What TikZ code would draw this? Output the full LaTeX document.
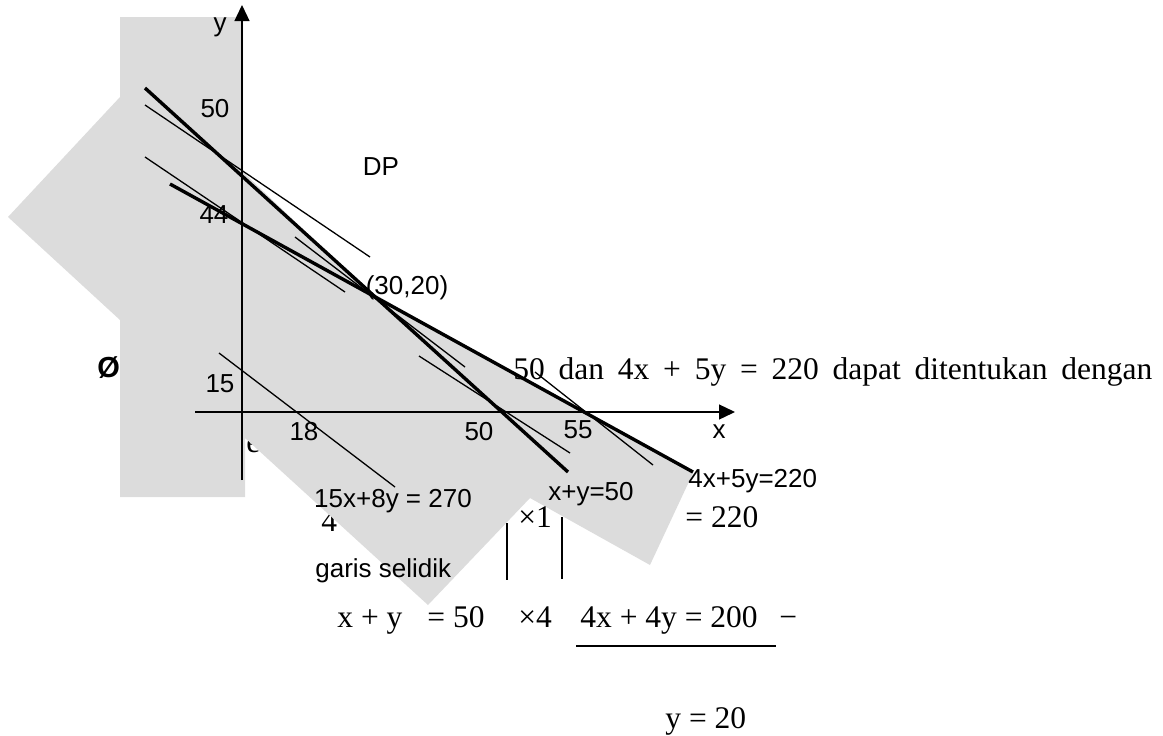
\documentclass[tikz,border=0pt]{standalone}
\usepackage{fontspec}
\setmainfont{Liberation Serif}
\setsansfont{Liberation Sans}
\usetikzlibrary{arrows.meta}

\definecolor{greyfill}{RGB}{220,220,220}

\begin{document}
\begin{tikzpicture}[x=0.5pt, y=-0.5pt,
    lbl/.style={font=\sffamily\fontsize{13}{15}\selectfont, inner sep=0pt, anchor=base},
    body/.style={font=\fontsize{15.75}{19}\selectfont, inner sep=0pt, anchor=base west},
    axis/.style={line width=0.65pt, -{Triangle[length=8pt,width=7.5pt]}},
    constraint/.style={line width=1.7pt},
    probe/.style={line width=0.65pt},
    bar/.style={line width=0.8pt}
  ]
  \useasboundingbox (0,0) rectangle (1163,735);

  % text partly hidden under the shading
  \node[body] (rowa) at (321,531) {4};
  \node[body] (frag) at (246,452) {e};

  % shaded region
  \fill[greyfill] (120,17) -- (243,17) -- (243,172) -- (367,290) -- (693,473)
    -- (650,565) -- (530,498) -- (428,605) -- (245,438) -- (245,497)
    -- (120,497) -- (120,320) -- (8,217) -- (120,97) -- cycle;

  % running text
  \node[body, font=\sffamily\bfseries\fontsize{14.5}{17}\selectfont] (bullet) at (97,377) {Ø};
  \node[body] (sentence) at (513,379) {\makebox[319.5pt][s]{50 dan 4x + 5y = 220 dapat ditentukan dengan}};

  % axes
  \draw[axis] (242,480) -- (242,5);
  \draw[axis] (195,412) -- (735,412);
  \node[lbl] (ylab) at (220,31) {y};
  \node[lbl] (xlab) at (719,438) {x};

  % constraint lines
  \draw[constraint] (145,88) -- (568,472);
  \draw[constraint] (170,184) -- (693,472);

  % probe lines
  \draw[probe] (145,105) -- (370,257);
  \draw[probe] (145,157) -- (345,292);
  \draw[probe] (295,237) -- (465,367);
  \draw[probe] (419,356) -- (570,453);
  \draw[probe] (535,372) -- (653,465);
  \draw[probe] (219,353) -- (395,487);

  % tick labels
  \node[lbl] (y50) at (215,117) {50};
  \node[lbl] (y44) at (214,223) {44};
  \node[lbl] (y15) at (220,392) {15};
  \node[lbl] (x18) at (304,440) {18};
  \node[lbl] (x50) at (479,440) {50};
  \node[lbl] (x55) at (578,438) {55};

  % region and line labels
  \node[lbl] (dp) at (381,175) {DP};
  \node[lbl] (opt) at (407,294) {(30,20)};
  \node[lbl] (lobj) at (393,507) {15x+8y = 270};
  \node[lbl] (lxy) at (591,500) {x+y=50};
  \node[lbl, anchor=base west] (lxy2) at (688,487) {4x+5y=220};
  \node[lbl, anchor=base west] (probe) at (315,577) {garis selidik};

  % elimination
  \node[body] (m1) at (518,527) {×1};
  \node[body] (r1) at (685,527) {= 220};
  \draw[bar] (507,523) -- (507,580);
  \draw[bar] (562,517) -- (562,579);
  \node[body] (l2) at (337,627) {x + y};
  \node[body] (e2) at (427,627) {= 50};
  \node[body] (m2) at (518,627) {×4};
  \node[body] (r2) at (580,627) {4x + 4y = 200};
  \node[body] (minus) at (779,627) {−};
  \draw[probe] (576,646) -- (776,646);
  \node[body] (res) at (665,728) {y = 20};
\end{tikzpicture}
\end{document}
